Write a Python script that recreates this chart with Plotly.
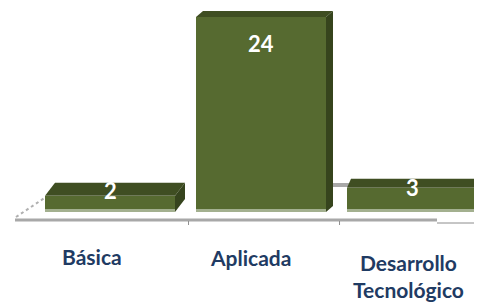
import plotly.graph_objects as go

categories = ["Básica", "Aplicada", "Desarrollo<br>Tecnológico"]
values = [2, 24, 3]

# style / geometry (pixel constants are page coordinates; the page body has an 8px margin)
OFF = 8
W, H = 482, 302
PX_X = 151.0          # pixels per x unit
X0_PX = 110.0         # pixel x of first category
BASE_PX = 212.0       # pixel y of value 0
PX_Y = 8.125          # pixels per y unit
BAR_W = 130 / PX_X
FRONT = "#566A30"
TOP = "#3F4E22"
SIDE = "#36441D"
NAVY = "#1F3B63"
depth_dx = [10, 7, 4]   # px (3-D depth of each bar)
depth_dy = [13, 6, 9]
val_shift = [5, -26, 0]
lab_shift = [-18, -11, -4]
lab_top = [242, 243, 248]

def px(p):
    return (p - X0_PX) / PX_X

def py(p):
    return (BASE_PX - p) / PX_Y

x_range = [px(OFF), px(W)]
y_range = [py(H), py(OFF)]

xs = list(range(len(values)))

fig = go.Figure()
fig.add_trace(go.Bar(x=xs, y=values, width=BAR_W, marker=dict(color=FRONT, line=dict(width=0)),
                     hoverinfo="skip", showlegend=False))

shapes = []
# floor
shapes.append(dict(type="line", xref="x", yref="y", x0=px(15), x1=px(437),
                   y0=py(220), y1=py(220), line=dict(color="#A8A8A8", width=3), layer="below"))
shapes.append(dict(type="line", xref="x", yref="y", x0=px(437), x1=px(W),
                   y0=py(223), y1=py(223), line=dict(color="#8C8C8C", width=1), layer="below"))
shapes.append(dict(type="line", xref="x", yref="y", x0=px(16), x1=px(46),
                   y0=py(217), y1=py(197), line=dict(color="#B0B0B0", width=2, dash="dot"), layer="below"))
shapes.append(dict(type="line", xref="x", yref="y", x0=1, x1=2,
                   y0=py(185), y1=py(185), line=dict(color="#A8A8A8", width=4), layer="below"))
for t in (0.5, 1.5):
    shapes.append(dict(type="line", xref="x", yref="y", x0=t + 0.02, x1=t + 0.02, y0=py(221), y1=py(225),
                       line=dict(color="#909090", width=1), layer="below"))

for i, v in enumerate(values):
    xl, xr = i - BAR_W / 2, i + BAR_W / 2
    dx = depth_dx[i] / PX_X
    dy = depth_dy[i] / PX_Y
    # top face
    shapes.append(dict(type="path", xref="x", yref="y",
                       path=f"M {xl},{v} L {xl+dx},{v+dy} L {xr+dx},{v+dy} L {xr},{v} Z",
                       fillcolor=TOP, line=dict(width=0)))
    # side face
    shapes.append(dict(type="path", xref="x", yref="y",
                       path=f"M {xr},{v} L {xr+dx},{v+dy} L {xr+dx},{dy} L {xr},0 Z",
                       fillcolor=SIDE, line=dict(width=0)))
    # light reflection at the foot of the bar
    shapes.append(dict(type="rect", xref="x", yref="y", x0=xl, x1=xr, y0=0, y1=3 / PX_Y,
                       fillcolor="rgba(190,200,175,0.75)", line=dict(width=0)))

annotations = []
for i, v in enumerate(values):
    annotations.append(dict(x=i, y=v, xref="x", yref="y", text=f"<b>{v}</b>", showarrow=False,
                            yanchor="middle", yshift=val_shift[i],
                            font=dict(family="Lato", size=22, color="white")))
for i, c in enumerate(categories):
    annotations.append(dict(x=i, y=py(lab_top[i]), xref="x", yref="y", text=f"<b>{c}</b>", showarrow=False,
                            yanchor="top", xshift=lab_shift[i],
                            font=dict(family="Lato", size=21, color=NAVY)))

fig.update_layout(
    width=W - OFF, height=H - OFF,
    margin=dict(l=0, r=0, t=0, b=0),
    paper_bgcolor="white", plot_bgcolor="white",
    xaxis=dict(range=x_range, visible=False, fixedrange=True),
    yaxis=dict(range=y_range, visible=False, fixedrange=True),
    shapes=shapes, annotations=annotations,
    bargap=0,
)
fig.write_html("out.html")
